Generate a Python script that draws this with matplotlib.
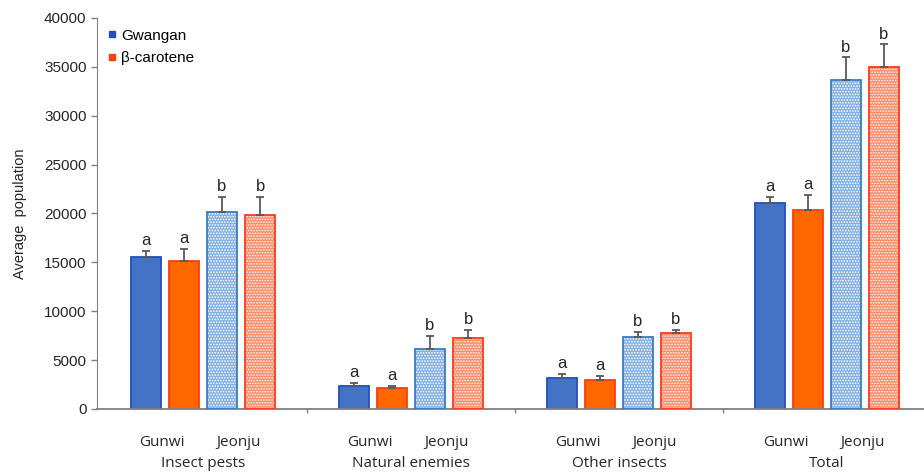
import numpy as np
import matplotlib
matplotlib.use('Agg')
import matplotlib.pyplot as plt
from matplotlib.transforms import blended_transform_factory

groups = ['Insect pests', 'Natural enemies', 'Other insects', 'Total']
sites = ['Gunwi', 'Jeonju']

gw_gunwi = [15500, 2400, 3200, 21100]
gw_gunwi_err = [700, 300, 400, 600]
bc_gunwi = [15100, 2150, 3000, 20400]
bc_gunwi_err = [1300, 250, 400, 1500]
gw_jeonju = [20100, 6150, 7400, 33700]
gw_jeonju_err = [1600, 1350, 500, 2300]
bc_jeonju = [19800, 7300, 7800, 35000]
bc_jeonju_err = [1900, 800, 300, 2300]

letters_gunwi = ['a', 'a', 'a', 'a']
letters_jeonju = ['b', 'b', 'b', 'b']

plt.rcParams['hatch.linewidth'] = 0.8

fig = plt.figure(figsize=(9.24, 4.72), dpi=100)
ax = fig.add_axes([0.105, 0.1335, 0.9026, 0.8285])

x = np.arange(len(groups)) + 0.5
w = 0.145
offs = [-0.274, -0.091, 0.091, 0.274]

series = [
    (gw_gunwi, gw_gunwi_err, letters_gunwi, '#4472c4', '#1f50b8', False),
    (bc_gunwi, bc_gunwi_err, letters_gunwi, '#ff6600', '#ff3d0d', False),
    (gw_jeonju, gw_jeonju_err, letters_jeonju, '#84b0e0', '#3a7bcc', True),
    (bc_jeonju, bc_jeonju_err, letters_jeonju, '#ff8a66', '#ff3a1f', True),
]

for (vals, errs, lets, fc, ec, hatched), o in zip(series, offs):
    xs = x + o
    if hatched:
        ax.bar(xs, vals, w, color=fc, edgecolor='white', hatch='......', linewidth=0.0, zorder=2)
        ax.bar(xs, vals, w, fill=False, edgecolor=ec, linewidth=1.3, zorder=3)
    else:
        ax.bar(xs, vals, w, color=fc, edgecolor=ec, linewidth=1.3, zorder=2)
    ax.errorbar(xs, vals, yerr=[np.zeros(len(vals)), errs], fmt='none',
                ecolor='#595959', elinewidth=1.3, capsize=3, capthick=1.3, zorder=4)
    for xi, v, e, l in zip(xs, vals, errs, lets):
        ax.text(xi, v + e + 250, l, ha='center', va='bottom', fontsize=12,
                family='Liberation Sans', color='#262626')

ax.set_xlim(-0.01, 4)
ax.set_ylim(0, 40000)
ax.set_yticks(np.arange(0, 40001, 5000))
ax.tick_params(axis='y', labelsize=11, colors='#262626', length=4, width=1, direction='out')
for lab in ax.get_yticklabels():
    lab.set_family('Liberation Sans')
ax.tick_params(axis='y', color='#808080')
ax.set_xticks([1, 2, 3])
ax.set_xticklabels([])
ax.tick_params(axis='x', length=3, width=1, color='#808080', direction='out')

for s in ['top', 'right']:
    ax.spines[s].set_visible(False)
ax.spines['left'].set_color('#808080')
ax.spines['bottom'].set_color('#808080')
ax.spines['bottom'].set_linewidth(1.3)

ax.set_ylabel('Average  population', fontsize=10.5, family='Liberation Sans', color='#262626', labelpad=12)

trans = blended_transform_factory(ax.transData, ax.transAxes)
for i, g in enumerate(groups):
    ax.text(x[i] - 0.2, -0.085, sites[0], transform=trans, ha='center', va='center',
            fontsize=11, family='Open Sans', color='#262626')
    ax.text(x[i] + 0.17, -0.085, sites[1], transform=trans, ha='center', va='center',
            fontsize=11, family='Open Sans', color='#262626')
    ax.text(x[i], -0.14, g, transform=trans, ha='center', va='center',
            fontsize=11, family='Open Sans', color='#262626')

ax.plot([], [], 's', color='#1f50b8', markersize=5, label='Gwangan')
ax.plot([], [], 's', color='#ff3d0d', markersize=5, label='β-carotene')
leg = ax.legend(loc='upper left', bbox_to_anchor=(0.0, 1.0), frameon=False,
                prop={'family': 'Liberation Sans', 'size': 11},
                handlelength=0.6, handletextpad=0.3, labelspacing=0.55, borderaxespad=0.3)

plt.savefig('out.png', dpi=100)
